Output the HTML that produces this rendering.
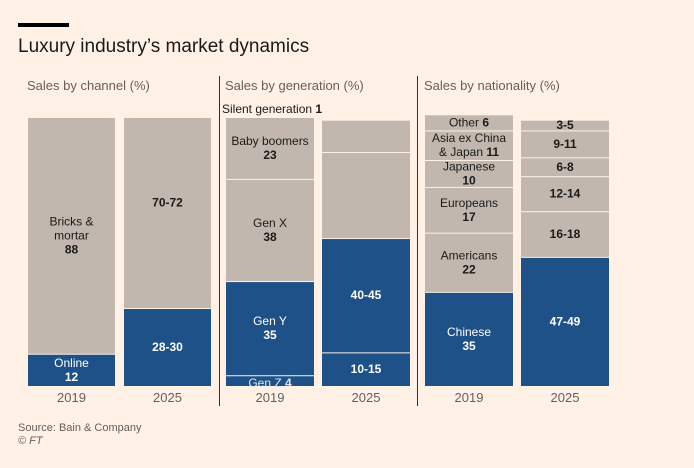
<!DOCTYPE html>
<html><head><meta charset="utf-8">
<style>
body{margin:0;background:#fff1e5;}
svg{display:block;font-family:"Liberation Sans",sans-serif;}
</style></head>
<body>
<svg id="c" width="694" height="468" viewBox="0 0 694 468">
<rect width="694" height="468" fill="#fff1e5"/>
<rect x="18" y="23" width="51" height="4" fill="#000"/>
<text x="18" y="52" font-size="19" fill="#1a1a1a">Luxury industry’s market dynamics</text>
<text x="27" y="90" font-size="13" fill="#66605c">Sales by channel (%)</text>
<text x="225" y="90" font-size="13" fill="#66605c">Sales by generation (%)</text>
<text x="424" y="90" font-size="13" fill="#66605c">Sales by nationality (%)</text>
<line x1="219.5" y1="76" x2="219.5" y2="406" stroke="#33302e"/>
<line x1="417.5" y1="76" x2="417.5" y2="406" stroke="#33302e"/>
<text x="222" y="113" font-size="12" fill="#1a1a1a">Silent generation <tspan font-weight="bold">1</tspan></text>
<text x="18" y="431" font-size="11" fill="#66605c">Source: Bain &amp; Company</text>
<text x="18" y="444" font-size="11" fill="#66605c" font-style="italic">© FT</text>
</svg>
<script>
// values bottom-to-top
const channel2019 = [12, 88];
const channel2025 = [29, 71];
const gen2019 = [4, 35, 38, 23, 1];
const gen2025 = [12.5, 42.5, 32, 12];
const nat2019 = [35, 22, 17, 10, 11, 6];
const nat2025 = [48, 17, 13, 7, 10, 4];
const years = ["2019", "2025"];

const channel2019Labels = [["Online","12"],["Bricks &","mortar","88"]];
const channel2025Labels = [["","28-30"],["","70-72"]];
const gen2019Labels = [["GenZ"],["Gen Y","35"],["Gen X","38"],["Baby boomers","23"],["HIDE"]];
const gen2025Labels = [["","10-15"],["","40-45"],[],[]];
const nat2019Labels = [["Chinese","35"],["Americans","22"],["Europeans","17"],["Japanese","10"],["Asia ex China","& Japan 11"],["Other 6"]];
const nat2025Labels = [["","47-49"],["","16-18"],["","12-14"],["","6-8"],["","9-11"],["","3-5"]];

const svg = document.getElementById('c');
const NS = 'http://www.w3.org/2000/svg';
const BASE = 386, PX = 2.69;
const yScale = v => v * PX;
const BLUE = '#1f5189', GREY = '#c1b7ae';

function mk(tag, attrs){const e=document.createElementNS(NS,tag);for(const k in attrs)e.setAttribute(k,attrs[k]);svg.appendChild(e);return e;}

function bar(x, w, vals, labels, nBlue, name, year, offsets){
  let y = BASE;
  vals.forEach((v,i)=>{
    const h = yScale(v);
    const top = y - h;
    const lab = labels[i]||[];
    if(lab[0]==='HIDE'){ y = top; return; }
    const r = mk('rect',{x:x,y:top+1,width:w,height:Math.max(h-1,0.5),fill:i<nBlue?BLUE:GREY});
    
    
    const col = i<nBlue?'#ffffff':'#1a1a1a';
    const cx = x + w/2;
    if(lab.length===1 && lab[0]==='GenZ'){
      const t = mk('text',{x:cx,y:BASE+1,'text-anchor':'middle','font-size':12,fill:'#dfe6f0'});
      t.innerHTML='Gen Z <tspan font-weight="bold">'+v+'</tspan>';
      
      
    } else if(lab.length){
      const lines = lab.filter(s=>s!=='');
      const mid = top + h/2 + ((offsets&&offsets[i])||0);
      const y0 = mid - (lines.length-1)*7 + 4;
      lines.forEach((s,j)=>{
        const isVal = j===lines.length-1 && /\d/.test(s) && !/[a-z]/i.test(s);
        const t = mk('text',{x:cx,y:y0+j*14,'text-anchor':'middle','font-size':12,fill:col});
        if(isVal){t.setAttribute('font-weight','bold');t.textContent=s;}
        else {
          const m = s.match(/^(.*?)(\d+)$/);
          if(m){t.innerHTML=m[1]+'<tspan font-weight="bold">'+m[2]+'</tspan>';}
          else t.textContent=s;
        }
        
        
      });
    }
    y = top;
  });
  const yl = mk('text',{x:x+w/2,y:402,'text-anchor':'middle','font-size':13,fill:'#66605c'});
  yl.textContent = year;
  
  
}
bar(28,87,channel2019,channel2019Labels,1,'channel-2019',years[0]);
bar(124,87,channel2025,channel2025Labels,1,'channel-2025',years[1],[0,-10]);
bar(226,88,gen2019,gen2019Labels,2,'generation-2019',years[0]);
bar(322,88,gen2025,gen2025Labels,2,'generation-2025',years[1]);
bar(425,88,nat2019,nat2019Labels,1,'nationality-2019',years[0]);
bar(521,88,nat2025,nat2025Labels,1,'nationality-2025',years[1]);
</script>
</body></html>
